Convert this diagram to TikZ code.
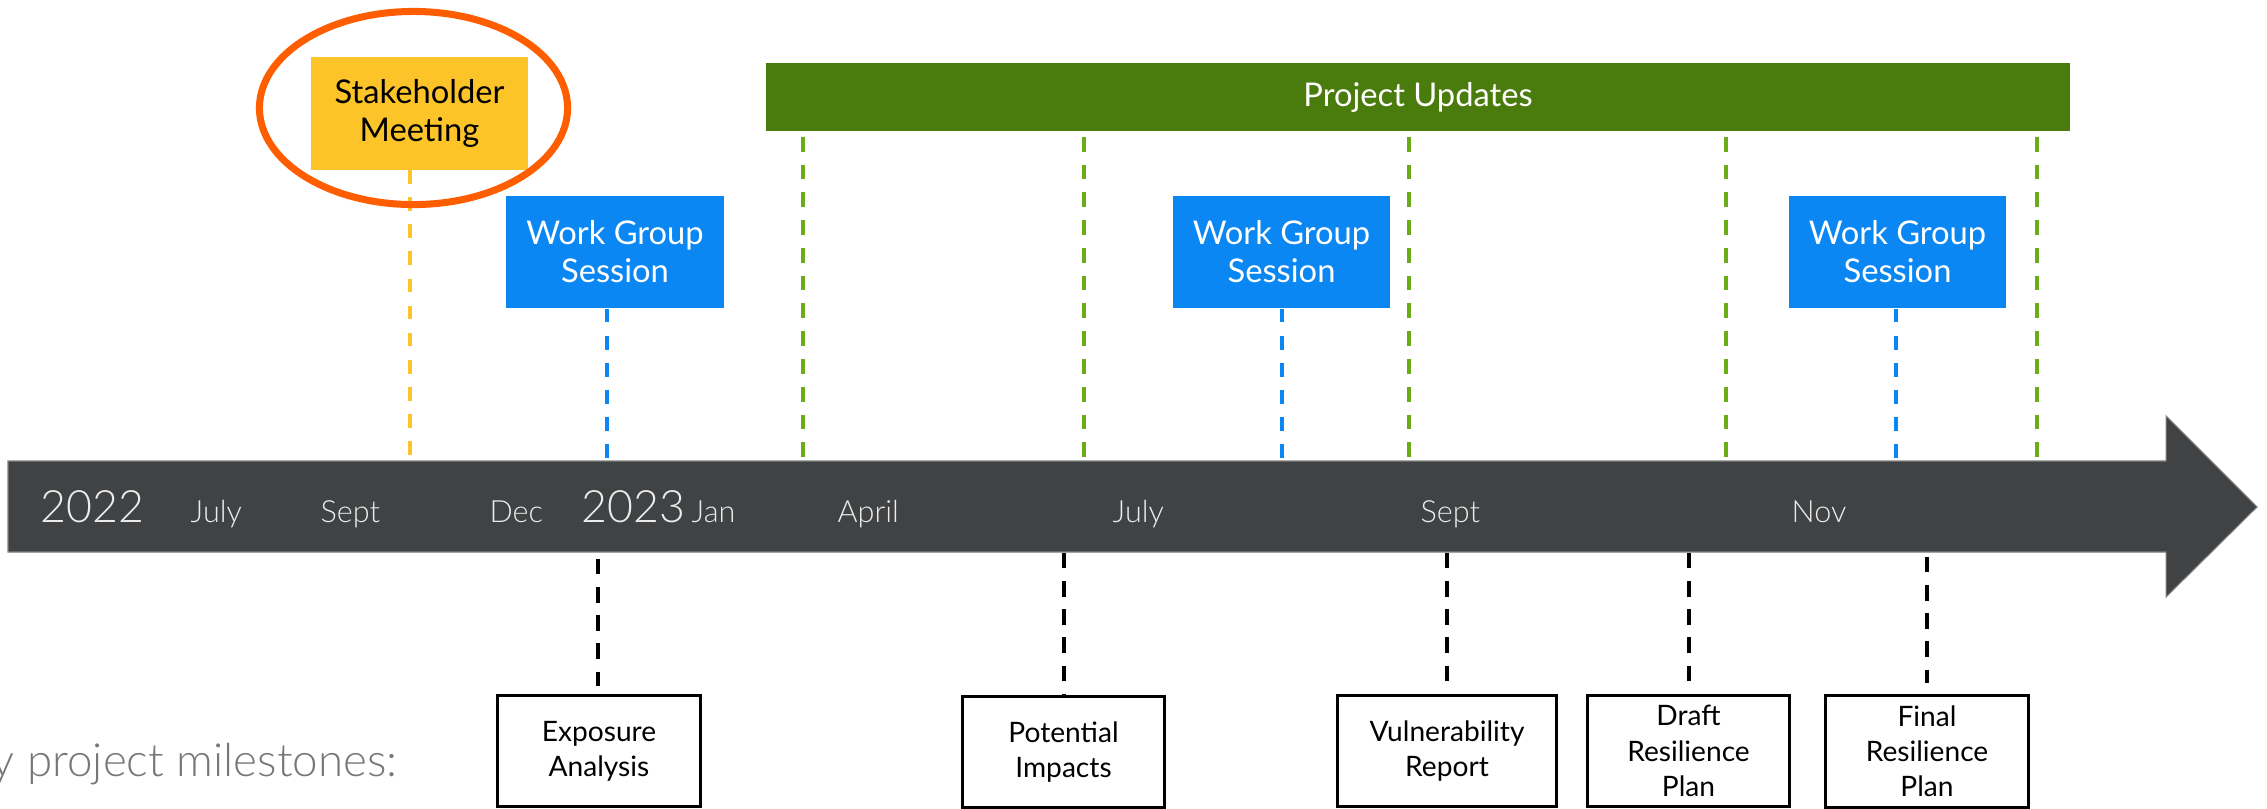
\documentclass[tikz,border=0pt]{standalone}
\usepackage{fontspec}
\setmainfont{Lato}
\newfontfamily\lightfont{Lato Light}
\usetikzlibrary{shapes.geometric}
\definecolor{barc}{HTML}{414244}
\definecolor{bartxt}{HTML}{ECECEC}
\definecolor{yel}{HTML}{FDC42A}
\definecolor{hlorange}{HTML}{FF5E00}
\definecolor{wgblue}{HTML}{0A87F2}
\definecolor{pugreen}{HTML}{4A7B0D}
\definecolor{gline}{HTML}{6AAC17}
\definecolor{notegray}{HTML}{777777}
\begin{document}
\begin{tikzpicture}[x=0.01cm,y=-0.01cm,
  topbox/.style={rectangle, inner sep=0pt, minimum width=2.17cm, minimum height=1.12cm, align=center, font=\fontsize{9.3}{10.8}\selectfont},
  wgbox/.style={topbox, fill=wgblue, text=white},
  msbox/.style={rectangle, draw=black, line width=0.85pt, inner sep=0pt, minimum height=1.11cm, align=center, font=\fontsize{8}{10}\selectfont},
  barlbl/.style={anchor=base west, inner sep=0pt, text=bartxt, font=\lightfont\fontsize{8.7}{10}\selectfont},
  yearlbl/.style={barlbl, font=\lightfont\fontsize{12.7}{14}\selectfont},
  ydash/.style={draw=yel, line width=1.1pt, dash pattern=on 3.9pt off 3.8pt},
  bdash/.style={draw=wgblue, line width=1.1pt, dash pattern=on 3.9pt off 3.8pt},
  gdash/.style={draw=gline, line width=1.1pt, dash pattern=on 4.2pt off 3.7pt},
  kdash/.style={draw=black, line width=1.3pt, dash pattern=on 4.4pt off 3.6pt},
]
\useasboundingbox (0,0) rectangle (2267,808);
\clip (0,0) rectangle (2267,808);

% timeline arrow
\fill[barc, draw=black!50, line width=0.3pt] (8,461) -- (2166,461) -- (2166,416) -- (2257,507) -- (2166,597) -- (2166,552) -- (8,552) -- cycle;

% bar labels
\node[yearlbl] (y22) at (40,522) {2022};
\node[barlbl] (m1) at (190,522) {July};
\node[barlbl] (m2) at (320,522) {Sept};
\node[barlbl] (m3) at (489,522) {Dec};
\node[yearlbl] (y23) at (581,522) {2023};
\node[barlbl] (m4) at (691,522) {Jan};
\node[barlbl] (m5) at (837,522) {April};
\node[barlbl] (m6) at (1112,522) {July};
\node[barlbl] (m7) at (1420,522) {Sept};
\node[barlbl] (m8) at (1791,522) {Nov};

% bar top / bottom coordinates
\coordinate (ty) at (410,461);
\coordinate (tb1) at (607,461);
\coordinate (tb2) at (1282,461);
\coordinate (tb3) at (1896,461);
\coordinate (tg1) at (803,461);
\coordinate (tg2) at (1084,461);
\coordinate (tg3) at (1409,461);
\coordinate (tg4) at (1726,461);
\coordinate (tg5) at (2037,461);
\coordinate (bk1) at (598,559);
\coordinate (bk2) at (1064,553);
\coordinate (bk3) at (1447,553);
\coordinate (bk4) at (1689,553);
\coordinate (bk5) at (1927,557);

% top boxes
\node[topbox, fill=yel] (sm) at (419.5,113.5) {Stakeholder\\Meeting};
\node[wgbox] (wg1) at (615,252) {Work Group\\Session};
\node[wgbox] (wg2) at (1281.5,252) {Work Group\\Session};
\node[wgbox] (wg3) at (1897.5,252) {Work Group\\Session};
\node[rectangle, fill=pugreen, text=white, inner sep=0pt, minimum width=13.04cm, minimum height=0.68cm, font=\fontsize{9.3}{10.8}\selectfont] (pu) at (1418,97) {Project Updates};

% top connectors
\draw[ydash] (sm.south -| ty) -- (ty);
\draw[bdash] (wg1.south -| tb1) -- (tb1);
\draw[bdash] (wg2.south -| tb2) -- (tb2);
\draw[bdash] (wg3.south -| tb3) -- (tb3);
\foreach \g in {tg1,tg2,tg3,tg4,tg5}
  \draw[gdash, shorten <=5*0.01cm] (pu.south -| \g) -- (\g);

% milestone boxes
\node[msbox, minimum width=2.02cm] (ea) at (599,751) {Exposure\\Analysis};
\node[msbox, minimum width=2.01cm] (pi) at (1063.5,752) {Potential\\Impacts};
\node[msbox, minimum width=2.18cm] (vr) at (1447,751) {Vulnerability\\Report};
\node[msbox, minimum width=2.01cm] (dr) at (1688.5,751) {Draft\\Resilience\\Plan};
\node[msbox, minimum width=2.02cm] (fr) at (1927,751.5) {Final\\Resilience\\Plan};

% bottom connectors
\draw[kdash, shorten >=0.08cm] (bk1) -- (ea.north -| bk1);
\draw[kdash] (bk2) -- (pi.north -| bk2);
\draw[kdash] (bk3) -- (vr.north -| bk3);
\draw[kdash] (bk4) -- (dr.north -| bk4);
\draw[kdash, shorten >=0.11cm] (bk5) -- (fr.north -| bk5);

% highlight ellipse
\node[ellipse, draw=hlorange, line width=2pt, inner sep=0pt, minimum width=3.08cm, minimum height=1.93cm] (hl) at (413.5,108) {};

% note text
\node[anchor=base east, inner sep=0pt, text=notegray, font=\lightfont\fontsize{13}{15}\selectfont] (note) at (398,776) {y project milestones:};
\end{tikzpicture}
\end{document}
